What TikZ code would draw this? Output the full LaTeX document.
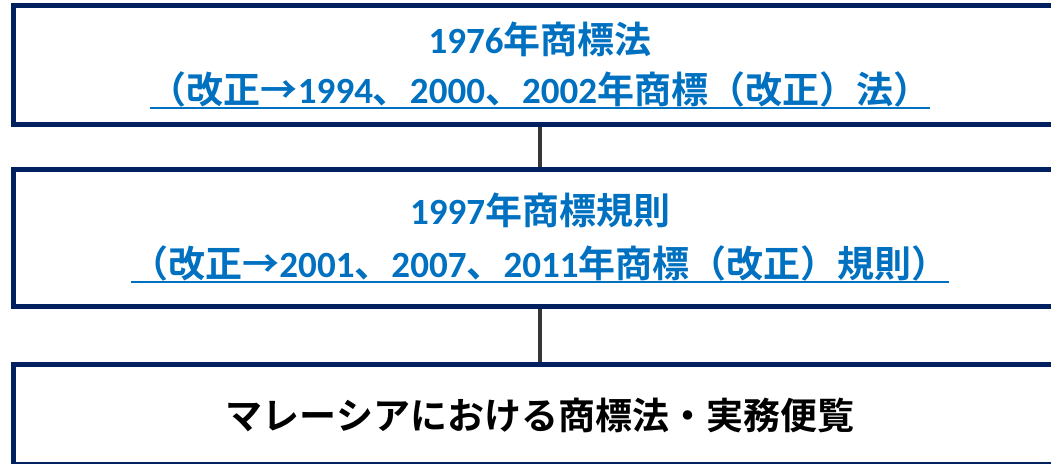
\documentclass[tikz,border=0pt]{standalone}
\usepackage{fontspec}
\setmainfont{Carlito}
\newfontfamily\jp{Noto Sans CJK JP}[BoldFont={Noto Sans CJK JP Bold}]
\definecolor{framenavy}{HTML}{002060}
\definecolor{lawblue}{HTML}{0070C0}
\definecolor{linkgray}{HTML}{363636}
\tikzset{
    lawbox/.style={draw=framenavy, line width=5pt, minimum width=1053pt, inner sep=0pt},
    title/.style={text=lawblue, font=\fontsize{37}{42}\selectfont\bfseries, anchor=base, inner sep=0pt},
    booktitle/.style={text=black, font=\fontsize{37}{42}\selectfont\bfseries\jp, anchor=base, inner sep=0pt},
    uline/.style={draw=lawblue, line width=2pt},
    link/.style={draw=linkgray, line width=4.5pt},
}
\begin{document}
\begin{tikzpicture}[x=1pt, y=-1pt]
    \useasboundingbox (0,0) rectangle (1051,463);
    \clip (0,0) rectangle (1051,463);
    % the three frames
    \node[lawbox, minimum height=118.5pt] (act) at (540,64.75) {};
    \node[lawbox, minimum height=136.5pt] (rules) at (540,237.75) {};
    \node[lawbox, minimum height=100pt] (guide) at (540,414.5) {};
    \draw[link] (act.south) -- (rules.north);
    \draw[link] (rules.south) -- (guide.north);
    % texts
    \node[title] (actname) at (540,53) {1976{\jp 年商標法}};
    \node[title] (actrev) at (540,103) {{\jp （改正→}1994{\jp 、}2000{\jp 、}2002{\jp 年商標（改正）法）}};
    \draw[uline] ([yshift=-5pt]actrev.base west) -- ([yshift=-5pt]actrev.base east);
    \node[title] (rulesname) at (540,224) {1997{\jp 年商標規則}};
    \node[title] (rulesrev) at (540,277) {{\jp （改正→}2001{\jp 、}2007{\jp 、}2011{\jp 年商標（改正）規則）}};
    \draw[uline] ([yshift=-5pt]rulesrev.base west) -- ([yshift=-5pt]rulesrev.base east);
    \node[booktitle] (guidename) at (540,429) {マレーシアにおける商標法・実務便覧};
\end{tikzpicture}
\end{document}
